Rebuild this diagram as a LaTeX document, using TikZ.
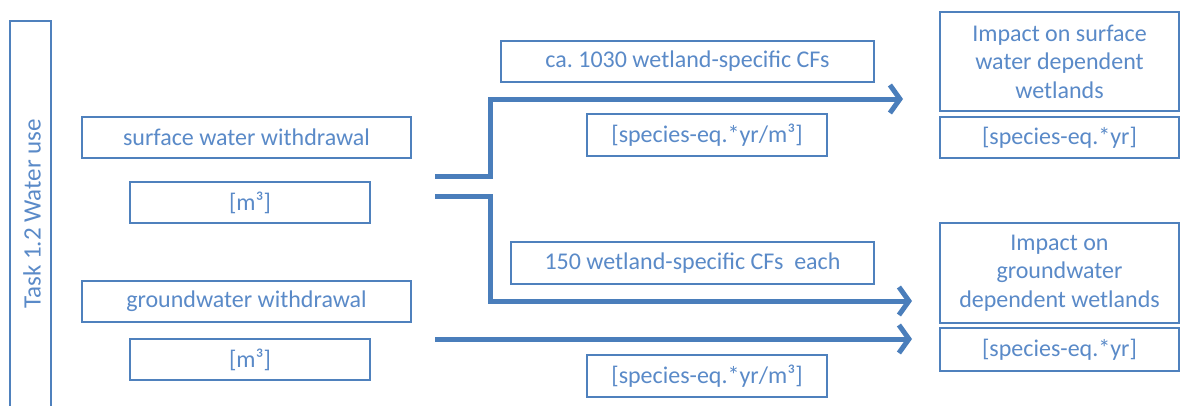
\documentclass[tikz,border=0pt]{standalone}
\usepackage{fontspec}
\setmainfont{Carlito}
\usetikzlibrary{arrows.meta}
\definecolor{boxblue}{HTML}{4F81BD}
\definecolor{txtblue}{HTML}{5A8AC8}
\definecolor{arrblue}{HTML}{4A7EBB}
\frenchspacing
\begin{document}
\begin{tikzpicture}[x=1pt,y=-1pt,
  box/.style={draw=boxblue,line width=2pt,fill=white,text=txtblue,
    font=\fontsize{24}{28.5}\selectfont,inner sep=0pt,align=center},
  flow/.style={draw=arrblue,line width=5pt,line join=miter,
    -{Straight Barb[length=10pt,width=28pt,line width=5pt]}}]
\useasboundingbox (0,0) rectangle (1180,405);
\clip (0,0) rectangle (1180,405);
% left task label
\node[box,minimum width=41pt,minimum height=389pt] (task) at (30.5,215.5) {};
\node[text=txtblue,font=\fontsize{25}{28}\selectfont,rotate=90] (tasklbl) at (32,214) {Task 1.2 Water use};
% inputs
\node[box,minimum width=329pt,minimum height=41pt] (sww) at (246.5,137.5) {surface water withdrawal};
\node[box,minimum width=240pt,minimum height=41pt] (m3a) at (250,202.5) {[m³]};
\node[box,minimum width=329pt,minimum height=41pt] (gww) at (246.5,301.5) {groundwater withdrawal};
\node[box,minimum width=240pt,minimum height=41pt] (m3b) at (250,359.5) {[m³]};
% characterisation factors
\node[box,minimum width=373pt,minimum height=41pt] (cf1) at (687.5,61.5) {ca. 1030 wetland-specific CFs};
\node[box,minimum width=240pt,minimum height=42pt] (u1) at (707,135) {[species-eq.*yr/m³]};
\node[box,minimum width=363pt,minimum height=42pt] (cf2) at (692.5,263) {150 wetland-specific CFs\ \ each};
\node[box,minimum width=240pt,minimum height=42pt] (u2) at (707,376) {[species-eq.*yr/m³]};
% impacts
\node[box,minimum width=239pt,minimum height=99pt] (imp1) at (1059.5,61.5) {Impact on surface\\water dependent\\wetlands};
\node[box,minimum width=239pt,minimum height=41pt] (r1) at (1059.5,137.5) {[species-eq.*yr]};
\node[box,minimum width=239pt,minimum height=100pt] (imp2) at (1059.5,273) {Impact on\\groundwater\\dependent wetlands};
\node[box,minimum width=239pt,minimum height=43pt] (r2) at (1059.5,349.5) {[species-eq.*yr]};
% flow arrows
\coordinate (s1) at (435,176);
\coordinate (s2) at (435,196);
\coordinate (s3) at (435,339);
\coordinate (e1) at (903,99);
\coordinate (e2) at (912,301);
\coordinate (e3) at (912,339);
\draw[flow] (s1) -- (490,176) -- (490,99) -- (e1);
\draw[flow] (s2) -- (490,196) -- (490,301) -- (e2);
\draw[flow] (s3) -- (e3);
\end{tikzpicture}
\end{document}
